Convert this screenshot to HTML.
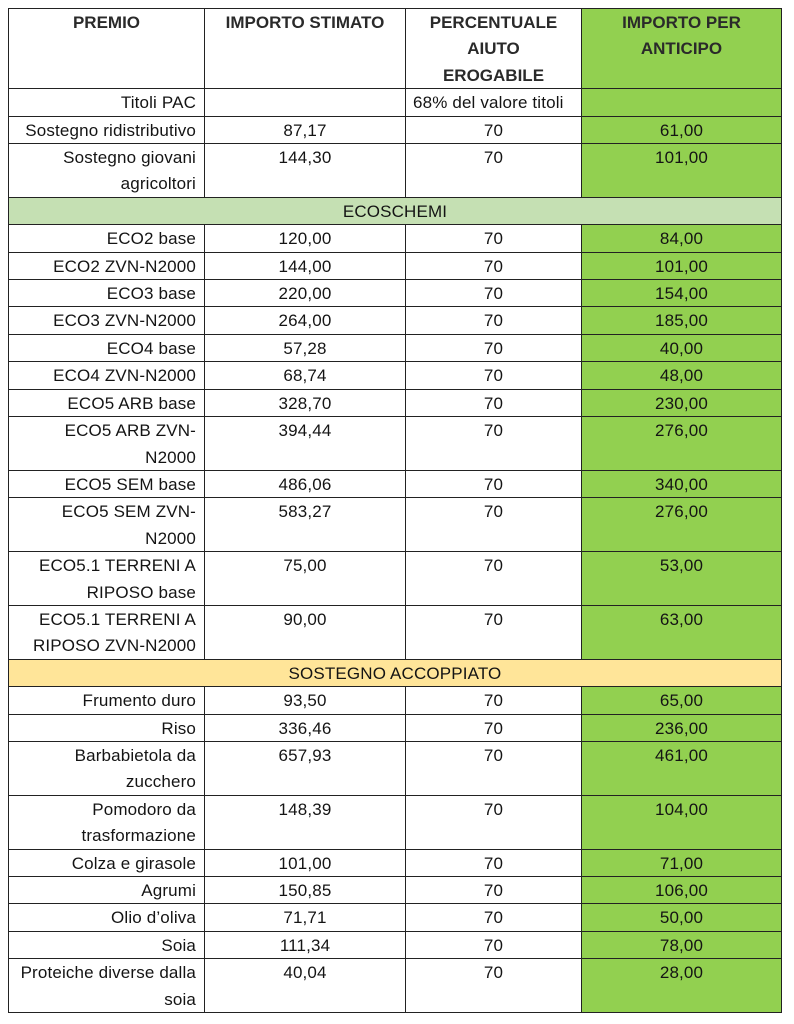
<!DOCTYPE html>
<html>
<head>
<meta charset="utf-8">
<style>
  html, body { margin: 0; padding: 0; background: #ffffff; }
  body { width: 794px; height: 1024px; overflow: hidden; position: relative; }
  table {
    position: absolute; left: 8px; top: 8px;
    border-collapse: collapse; table-layout: fixed;
    width: 773px;
    font-family: "Liberation Sans", Arial, sans-serif;
    font-size: 17px; line-height: 26.4px; color: #141414;
    letter-spacing: 0.15px;
    border: 1px solid #555;
  }
  td {
    border: 1px solid #222;
    padding: 0;
    vertical-align: top;
    white-space: nowrap;
  }
  td span { position: relative; top: 1px; }
  td.l { text-align: right; padding-right: 8px; }
  td.c { text-align: center; }
  td.g { background: #92d050; text-align: center; }
  td.p { text-align: left; padding-left: 7px; }
  tr.h td { font-weight: bold; text-align: center; color: #2a2a2a; letter-spacing: 0; }
  tr.eco td { background: #c5e0b3; text-align: center; }
  tr.sos td { background: #ffe599; text-align: center; }
</style>
</head>
<body>
<table>
  <colgroup>
    <col style="width:196px">
    <col style="width:201px">
    <col style="width:176px">
    <col style="width:200px">
  </colgroup>
  <tr class="h">
    <td><span>PREMIO</span><br>&nbsp;<br>&nbsp;</td>
    <td><span>IMPORTO STIMATO</span></td>
    <td><span>PERCENTUALE<br>AIUTO<br>EROGABILE</span></td>
    <td class="g"><span>IMPORTO PER<br>ANTICIPO</span></td>
  </tr>
  <tr><td class="l"><span>Titoli PAC</span></td><td class="c"></td><td class="p"><span>68% del valore titoli</span></td><td class="g"></td></tr>
  <tr><td class="l"><span>Sostegno ridistributivo</span></td><td class="c"><span>87,17</span></td><td class="c"><span>70</span></td><td class="g"><span>61,00</span></td></tr>
  <tr><td class="l"><span>Sostegno giovani<br>agricoltori</span></td><td class="c"><span>144,30</span></td><td class="c"><span>70</span></td><td class="g"><span>101,00</span></td></tr>
  <tr class="eco"><td colspan="4"><span>ECOSCHEMI</span></td></tr>
  <tr><td class="l"><span>ECO2 base</span></td><td class="c"><span>120,00</span></td><td class="c"><span>70</span></td><td class="g"><span>84,00</span></td></tr>
  <tr><td class="l"><span>ECO2 ZVN-N2000</span></td><td class="c"><span>144,00</span></td><td class="c"><span>70</span></td><td class="g"><span>101,00</span></td></tr>
  <tr><td class="l"><span>ECO3 base</span></td><td class="c"><span>220,00</span></td><td class="c"><span>70</span></td><td class="g"><span>154,00</span></td></tr>
  <tr><td class="l"><span>ECO3 ZVN-N2000</span></td><td class="c"><span>264,00</span></td><td class="c"><span>70</span></td><td class="g"><span>185,00</span></td></tr>
  <tr><td class="l"><span>ECO4 base</span></td><td class="c"><span>57,28</span></td><td class="c"><span>70</span></td><td class="g"><span>40,00</span></td></tr>
  <tr><td class="l"><span>ECO4 ZVN-N2000</span></td><td class="c"><span>68,74</span></td><td class="c"><span>70</span></td><td class="g"><span>48,00</span></td></tr>
  <tr><td class="l"><span>ECO5 ARB base</span></td><td class="c"><span>328,70</span></td><td class="c"><span>70</span></td><td class="g"><span>230,00</span></td></tr>
  <tr><td class="l"><span>ECO5 ARB ZVN-<br>N2000</span></td><td class="c"><span>394,44</span></td><td class="c"><span>70</span></td><td class="g"><span>276,00</span></td></tr>
  <tr><td class="l"><span>ECO5 SEM base</span></td><td class="c"><span>486,06</span></td><td class="c"><span>70</span></td><td class="g"><span>340,00</span></td></tr>
  <tr><td class="l"><span>ECO5 SEM ZVN-<br>N2000</span></td><td class="c"><span>583,27</span></td><td class="c"><span>70</span></td><td class="g"><span>276,00</span></td></tr>
  <tr><td class="l"><span>ECO5.1 TERRENI A<br>RIPOSO base</span></td><td class="c"><span>75,00</span></td><td class="c"><span>70</span></td><td class="g"><span>53,00</span></td></tr>
  <tr><td class="l"><span>ECO5.1 TERRENI A<br>RIPOSO ZVN-N2000</span></td><td class="c"><span>90,00</span></td><td class="c"><span>70</span></td><td class="g"><span>63,00</span></td></tr>
  <tr class="sos"><td colspan="4"><span>SOSTEGNO ACCOPPIATO</span></td></tr>
  <tr><td class="l"><span>Frumento duro</span></td><td class="c"><span>93,50</span></td><td class="c"><span>70</span></td><td class="g"><span>65,00</span></td></tr>
  <tr><td class="l"><span>Riso</span></td><td class="c"><span>336,46</span></td><td class="c"><span>70</span></td><td class="g"><span>236,00</span></td></tr>
  <tr><td class="l"><span>Barbabietola da<br>zucchero</span></td><td class="c"><span>657,93</span></td><td class="c"><span>70</span></td><td class="g"><span>461,00</span></td></tr>
  <tr><td class="l"><span>Pomodoro da<br>trasformazione</span></td><td class="c"><span>148,39</span></td><td class="c"><span>70</span></td><td class="g"><span>104,00</span></td></tr>
  <tr><td class="l"><span>Colza e girasole</span></td><td class="c"><span>101,00</span></td><td class="c"><span>70</span></td><td class="g"><span>71,00</span></td></tr>
  <tr><td class="l"><span>Agrumi</span></td><td class="c"><span>150,85</span></td><td class="c"><span>70</span></td><td class="g"><span>106,00</span></td></tr>
  <tr><td class="l"><span>Olio d’oliva</span></td><td class="c"><span>71,71</span></td><td class="c"><span>70</span></td><td class="g"><span>50,00</span></td></tr>
  <tr><td class="l"><span>Soia</span></td><td class="c"><span>111,34</span></td><td class="c"><span>70</span></td><td class="g"><span>78,00</span></td></tr>
  <tr><td class="l"><span>Proteiche diverse dalla<br>soia</span></td><td class="c"><span>40,04</span></td><td class="c"><span>70</span></td><td class="g"><span>28,00</span></td></tr>
</table>
</body>
</html>
